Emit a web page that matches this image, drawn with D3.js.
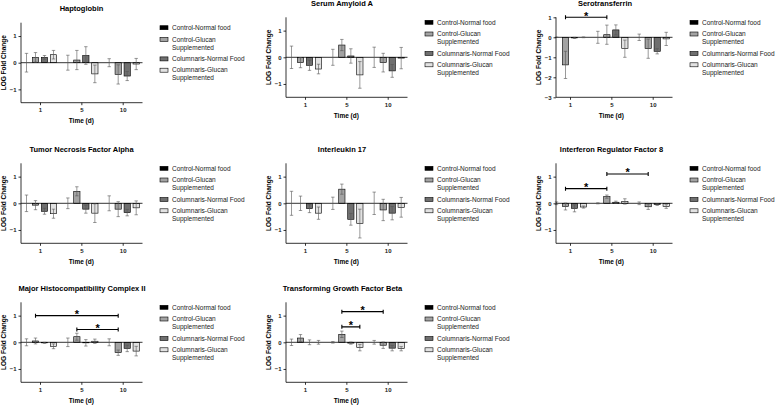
<!DOCTYPE html>
<html>
<head>
<meta charset="utf-8">
<title>LOG fold change of immune genes</title>
<script src="https://cdnjs.cloudflare.com/ajax/libs/d3/7.8.5/d3.min.js"></script>
<style>
  body { margin: 0; background: #fff; }
  svg text { font-family: "Liberation Sans", Arial, sans-serif; }
</style>
</head>
<body>
<div id="chart"></div>
<script>
// time points (days) and the four groups
var times = ["1", "5", "10"];
var groups = ["Control-Normal food", "Control-Glucan Supplemented", "Columnaris-Normal Food", "Columnaris-Glucan Supplemented"];
var legendLines = [["Control-Normal food"], ["Control-Glucan", "Supplemented"], ["Columnaris-Normal Food"], ["Columnaris-Glucan", "Supplemented"]];
var groupColors = ["#000000", "#a3a3a3", "#6f6f6f", "#e2e2e2"];

// mean LOG fold change: one row per group, one value per time point
var haptoglobinMean = [[0, 0, 0], [0.20, 0.10, -0.44], [0.20, 0.27, -0.50], [0.30, -0.42, -0.05]];
var haptoglobinSD = [[0.35, 0.28, 0.15], [0.18, 0.36, 0.36], [0.07, 0.33, 0.17], [0.16, 0.33, 0.21]];

var amyloidMean = [[0, 0, 0], [-0.20, 0.46, -0.20], [-0.30, 0.05, -0.51], [-0.44, -0.66, -0.03]];
var amyloidSD = [[0.42, 0.30, 0.38], [0.19, 0.21, 0.35], [0.19, 0.27, 0.24], [0.18, 0.50, 0.40]];

var transferrinMean = [[0, 0, 0], [-1.38, 0.13, -0.57], [-0.03, 0.37, -0.70], [0.0, -0.57, -0.08]];
var transferrinSD = [[0, 0.30, 0.16], [0.68, 0.48, 0.48], [0.03, 0.25, 0.13], [0.02, 0.43, 0.33]];

var tnfMean = [[0, 0, 0], [-0.07, 0.45, -0.22], [-0.30, -0.22, -0.35], [-0.39, -0.37, -0.17]];
var tnfSD = [[0.31, 0.20, 0.28], [0.17, 0.17, 0.28], [0.11, 0.15, 0.12], [0.17, 0.35, 0.26]];

var il17Mean = [[0, 0, 0], [0, 0.53, -0.25], [-0.20, -0.60, -0.37], [-0.37, -0.76, -0.15]];
var il17SD = [[0.45, 0.23, 0.42], [0.27, 0.19, 0.40], [0.15, 0.22, 0.25], [0.23, 0.54, 0.37]];

var irf8Mean = [[0, 0, 0], [-0.12, 0.25, -0.13], [-0.19, 0.04, -0.05], [-0.14, 0.07, -0.12]];
var irf8SD = [[0.05, 0.02, 0.05], [0.13, 0.06, 0.10], [0.13, 0.04, 0.03], [0.04, 0.10, 0.07]];

var mhcMean = [[0, 0, 0], [0.05, 0.21, -0.39], [-0.02, -0.02, -0.23], [-0.15, 0.04, -0.33]];
var mhcSD = [[0.13, 0.16, 0.13], [0.11, 0.13, 0.10], [0.02, 0.12, 0.12], [0.09, 0.08, 0.18]];

var tgfMean = [[0, 0, 0], [0.16, 0.30, -0.11], [0, -0.03, -0.22], [0, -0.20, -0.24]];
var tgfSD = [[0.12, 0.03, 0.07], [0.13, 0.12, 0.12], [0.09, 0.04, 0.10], [0.07, 0.12, 0.08]];

// significance brackets: [time, group index] to [time, group index] at a height
var transferrinSig = [{a: ["1", 1], b: ["5", 1], y: 1.0}];
var irf8Sig = [{a: ["1", 1], b: ["5", 1], y: 0.55}, {a: ["5", 1], b: ["10", 1], y: 1.1}];
var mhcSig = [{a: ["1", 1], b: ["10", 1], y: 1.0}, {a: ["5", 1], b: ["10", 1], y: 0.48}];
var tgfSig = [{a: ["5", 1], b: ["10", 1], y: 1.15}, {a: ["5", 1], b: ["5", 3], y: 0.58}];

var panels = [
    {title: "Haptoglobin", mean: haptoglobinMean, sd: haptoglobinSD, y: [-1.5, 1.5], ticks: [-1, 0, 1], sig: []},
    {title: "Serum Amyloid A", mean: amyloidMean, sd: amyloidSD, y: [-1.5, 1.5], ticks: [-1, 0, 1], sig: []},
    {title: "Serotransferrin", mean: transferrinMean, sd: transferrinSD, y: [-3, 1], ticks: [-3, -2, -1, 0, 1], sig: transferrinSig},
    {title: "Tumor Necrosis Factor Alpha", mean: tnfMean, sd: tnfSD, y: [-1.5, 1.5], ticks: [-1, 0, 1], sig: []},
    {title: "Interleukin 17", mean: il17Mean, sd: il17SD, y: [-1.5, 1.5], ticks: [-1, 0, 1], sig: []},
    {title: "Interferon Regulator Factor 8", mean: irf8Mean, sd: irf8SD, y: [-1.5, 1.5], ticks: [-1, 0, 1], sig: irf8Sig},
    {title: "Major Histocompatibility Complex II", mean: mhcMean, sd: mhcSD, y: [-1.5, 1.5], ticks: [-1, 0, 1], sig: mhcSig},
    {title: "Transforming Growth Factor Beta", mean: tgfMean, sd: tgfSD, y: [-1.5, 1.5], ticks: [-1, 0, 1], sig: tgfSig}
];

// where each panel sits on the page
var layout = [
    {ox: 0, top: 22.7, axisDx: 21, titleX: 81.5},
    {ox: 265, top: 17.3, axisDx: 21, titleX: 77},
    {ox: 530, top: 17.3, axisDx: 26, titleX: 75},
    {ox: 0, top: 163.3, axisDx: 21, titleX: 81.5},
    {ox: 265, top: 163.3, axisDx: 21, titleX: 77},
    {ox: 530, top: 163.3, axisDx: 26, titleX: 81.5},
    {ox: 0, top: 302.3, axisDx: 21, titleX: 82},
    {ox: 265, top: 302.3, axisDx: 21, titleX: 77.5}
];

var width = 777, height = 405, plotH = 80;
var svg = d3.select("#chart").append("svg")
    .attr("width", width).attr("height", height);

var sub = d3.scaleBand().domain(d3.range(groups.length))
    .range([-18, 18]).paddingInner(0.3).paddingOuter(0.15);

panels.forEach(function (p, k) {
    var L = layout[k];
    var g = svg.append("g");
    var left = L.ox + L.axisDx, right = L.ox + 142.5;
    var bottom = L.top + plotH;

    var x = d3.scalePoint().domain(times).range([L.ox + 40, L.ox + 122.7]);
    var y = d3.scaleLinear().domain(p.y).range([bottom, L.top]);
    var cx = function (t, i) { return x(t) + sub(i) + sub.bandwidth() / 2; };

    // title
    g.append("text")
        .attr("x", L.ox + L.titleX).attr("y", L.top - 11.5)
        .attr("text-anchor", "middle")
        .style("font-size", "7.5px").style("font-weight", "bold")
        .text(p.title);

    // bars
    var cells = [];
    p.mean.forEach(function (row, i) {
        row.forEach(function (v, j) {
            cells.push({i: i, t: times[j], v: v, e: p.sd[i][j]});
        });
    });

    g.selectAll("rect.bar").data(cells).enter().append("rect")
        .attr("class", "bar")
        .attr("x", function (d) { return x(d.t) + sub(d.i); })
        .attr("width", sub.bandwidth())
        .attr("y", function (d) { return Math.min(y(d.v), y(0)); })
        .attr("height", function (d) { return Math.abs(y(d.v) - y(0)); })
        .attr("fill", function (d) { return groupColors[d.i]; })
        .attr("stroke", "#000").attr("stroke-width", 0.6);

    // zero line
    g.append("line")
        .attr("x1", left).attr("x2", right)
        .attr("y1", y(0)).attr("y2", y(0))
        .attr("stroke", "#000").attr("stroke-width", 0.8);

    // error bars (mean +/- SD)
    var eb = g.selectAll("g.err").data(cells).enter().append("g")
        .attr("stroke", "#555").attr("stroke-width", 0.6);
    eb.append("line")
        .attr("x1", function (d) { return cx(d.t, d.i); })
        .attr("x2", function (d) { return cx(d.t, d.i); })
        .attr("y1", function (d) { return y(d.v - d.e); })
        .attr("y2", function (d) { return y(d.v + d.e); });
    [-1, 1].forEach(function (s) {
        eb.append("line")
            .attr("x1", function (d) { return cx(d.t, d.i) - 1.7; })
            .attr("x2", function (d) { return cx(d.t, d.i) + 1.7; })
            .attr("y1", function (d) { return y(d.v + s * d.e); })
            .attr("y2", function (d) { return y(d.v + s * d.e); });
    });

    // axes
    var yAxis = g.append("g").attr("transform", "translate(" + left + ",0)")
        .call(d3.axisLeft(y).tickValues(p.ticks).tickSize(2.5).tickPadding(2).tickFormat(d3.format("d")));
    var xAxis = g.append("g").attr("transform", "translate(0," + bottom + ")")
        .call(d3.axisBottom(x).tickSize(2.5).tickPadding(3));
    xAxis.select(".domain").attr("d", "M" + left + ",0H" + right);
    yAxis.select(".domain").attr("d", "M0," + L.top + "V" + bottom);
    [xAxis, yAxis].forEach(function (a) {
        a.selectAll(".domain, line").attr("stroke", "#000").attr("stroke-width", 0.8);
        a.selectAll("text").style("font-size", "6px").style("font-weight", "bold").attr("fill", "#222");
    });

    // axis titles
    g.append("text")
        .attr("x", (L.ox + 40 + L.ox + 122.7) / 2).attr("y", bottom + 20.5)
        .attr("text-anchor", "middle")
        .style("font-size", "6.5px").style("font-weight", "bold")
        .text("Time (d)");
    g.append("text")
        .attr("transform", "translate(" + (left - 15) + "," + (L.top + plotH / 2) + ") rotate(-90)")
        .attr("text-anchor", "middle")
        .style("font-size", "6.5px").style("font-weight", "bold")
        .text("LOG Fold Change");

    // significance brackets
    p.sig.forEach(function (s) {
        var x1 = cx(s.a[0], s.a[1]), x2 = cx(s.b[0], s.b[1]), yy = y(s.y);
        g.append("path")
            .attr("d", "M" + x1 + "," + (yy - 2) + "V" + (yy + 2) + "M" + x1 + "," + yy + "H" + x2 +
                "M" + x2 + "," + (yy - 2) + "V" + (yy + 2))
            .attr("fill", "none").attr("stroke", "#000").attr("stroke-width", 1.1);
        g.append("text")
            .attr("x", (x1 + x2) / 2).attr("y", yy + 2.5)
            .attr("text-anchor", "middle")
            .style("font-size", "11px").style("font-weight", "bold")
            .text("*");
    });

    // legend
    var rowY = [0, 11.7, 31.2, 42.5];
    var lg = g.append("g").attr("transform", "translate(" + (L.ox + 160) + "," + (L.top + 5) + ")");
    groups.forEach(function (name, i) {
        lg.append("rect")
            .attr("x", 0).attr("y", rowY[i] - 2).attr("width", 8).attr("height", 4)
            .attr("fill", groupColors[i]).attr("stroke", "#000").attr("stroke-width", 0.6);
        legendLines[i].forEach(function (line, n) {
            lg.append("text")
                .attr("x", 12).attr("y", rowY[i] + 2.3 + n * 8)
                .style("font-size", "6.5px").attr("fill", "#222")
                .text(line);
        });
    });
});
</script>
</body>
</html>
